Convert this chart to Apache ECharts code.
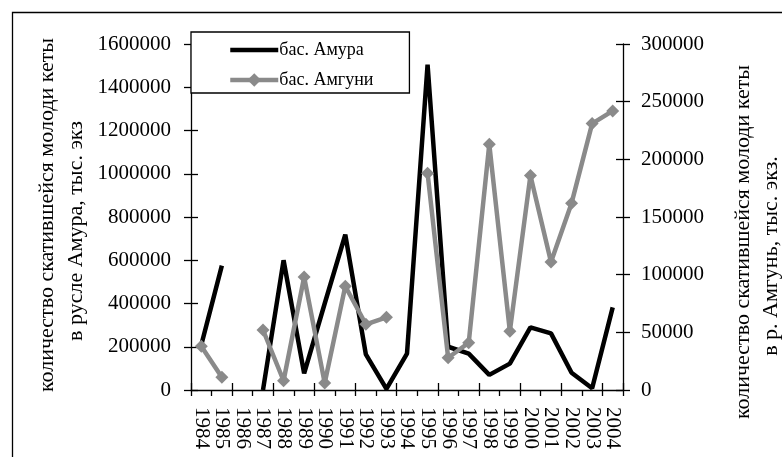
<!DOCTYPE html>
<html>
<head>
<meta charset="utf-8">
<script src="https://cdn.jsdelivr.net/npm/echarts@6/dist/echarts.min.js"></script>
<style>
html,body{margin:0;padding:0;background:#fff;}
#c{width:782px;height:457px;}
</style>
</head>
<body>
<div id="c"></div>
<script>
var years = ['1984','1985','1986','1987','1988','1989','1990','1991','1992','1993','1994','1995','1996','1997','1998','1999','2000','2001','2002','2003','2004'];
var amur = [208000, 575000, null, 0, 600000, 77000, 400000, 718000, 165000, 5000, 168000, 1505000, 200000, 168000, 70000, 122000, 290000, 262000, 80000, 8000, 382000];
var amgun = [38000, 11000, null, 52000, 8000, 98000, 6000, 90000, 57000, 63000, null, 188000, 28000, 41000, 213000, 51000, 186000, 111000, 162000, 231000, 242000];
var seriesNames = ['бас. Амура', 'бас. Амгуни'];
var leftTitle = ['количество скатившейся молоди кеты', 'в русле Амура, тыс. экз'];
var rightTitle = ['количество скатившейся молоди кеты', 'в р. Амгунь, тыс. экз.'];

var FONT = '"Liberation Serif", "Times New Roman", serif';
var chart = echarts.init(document.getElementById('c'));

function yAx(pos, max, interval, inside, showLabel, margin) {
  return {
    type: 'value', position: pos, min: 0, max: max, interval: interval,
    axisLine: {show: !inside, lineStyle: {color: '#000', width: 1.3}},
    axisTick: {show: true, inside: inside, length: 7, lineStyle: {color: '#000', width: 1.3}},
    axisLabel: {show: showLabel, color: '#000', fontFamily: FONT, fontSize: 21, margin: margin,
                formatter: function (v) { return String(v); }},
    splitLine: {show: false}
  };
}

chart.setOption({
  animation: false,
  backgroundColor: '#fff',
  grid: {left: 191, right: 159, top: 44, bottom: 67, containLabel: false},
  legend: {
    orient: 'vertical', left: 191, top: 32,
    padding: [9, 36, 4, 37], itemGap: 12, itemWidth: 48, itemHeight: 17,
    borderColor: '#000', borderWidth: 1.3, backgroundColor: '#fff',
    lineStyle: {width: 4.5},
    textStyle: {color: '#000', fontFamily: FONT, fontSize: 18, padding: [0,0,0,-4]},
    data: [{name: seriesNames[0], itemStyle: {opacity: 0}}, {name: seriesNames[1]}]
  },
  xAxis: [
    {type: 'category', data: years, position: 'bottom', boundaryGap: true,
     axisLine: {lineStyle: {color: '#000', width: 1.3}},
     axisTick: {show: true, inside: false, length: 6, lineStyle: {color: '#000', width: 1.3}},
     axisLabel: {rotate: -90, interval: 0, margin: 17, color: '#000', fontFamily: FONT, fontSize: 21}},
    {type: 'category', data: years, position: 'bottom', offset: 0, boundaryGap: true,
     axisLine: {show: false},
     axisTick: {show: true, inside: true, length: 7, lineStyle: {color: '#000', width: 1.3}},
     axisLabel: {show: false}}
  ],
  yAxis: [
    yAx('left', 1600000, 200000, false, true, 20),
    yAx('right', 300000, 50000, false, true, 18),
    yAx('left', 1600000, 200000, true, false, 8),
    yAx('right', 300000, 50000, true, false, 8)
  ],
  series: [
    {name: seriesNames[0], type: 'line', data: amur, xAxisIndex: 0, yAxisIndex: 0,
     symbol: 'none', connectNulls: false,
     lineStyle: {color: '#000', width: 4.5}, itemStyle: {color: '#000'}},
    {name: seriesNames[1], type: 'line', data: amgun, xAxisIndex: 0, yAxisIndex: 1,
     symbol: 'diamond', symbolSize: 13, connectNulls: false,
     lineStyle: {color: '#8a8a8a', width: 4.5}, itemStyle: {color: '#8a8a8a'}}
  ],
  graphic: [
    {type: 'rect', left: 10, top: 10, shape: {x: 0, y: 0, width: 800, height: 500}, z: -10,
     style: {fill: 'none', stroke: '#000', lineWidth: 1.3}},
    {type: 'text', x: 47, y: 215, rotation: Math.PI/2,
     style: {text: leftTitle[0], font: '22px ' + FONT, fill: '#000', textAlign: 'center', textVerticalAlign: 'middle'}},
    {type: 'text', x: 76, y: 231, rotation: Math.PI/2,
     style: {text: leftTitle[1], font: '22px ' + FONT, fill: '#000', textAlign: 'center', textVerticalAlign: 'middle'}},
    {type: 'text', x: 743, y: 242, rotation: Math.PI/2,
     style: {text: rightTitle[0], font: '22px ' + FONT, fill: '#000', textAlign: 'center', textVerticalAlign: 'middle'}},
    {type: 'text', x: 771, y: 256, rotation: Math.PI/2,
     style: {text: rightTitle[1], font: '22px ' + FONT, fill: '#000', textAlign: 'center', textVerticalAlign: 'middle'}}
  ]
});
</script>
</body>
</html>
